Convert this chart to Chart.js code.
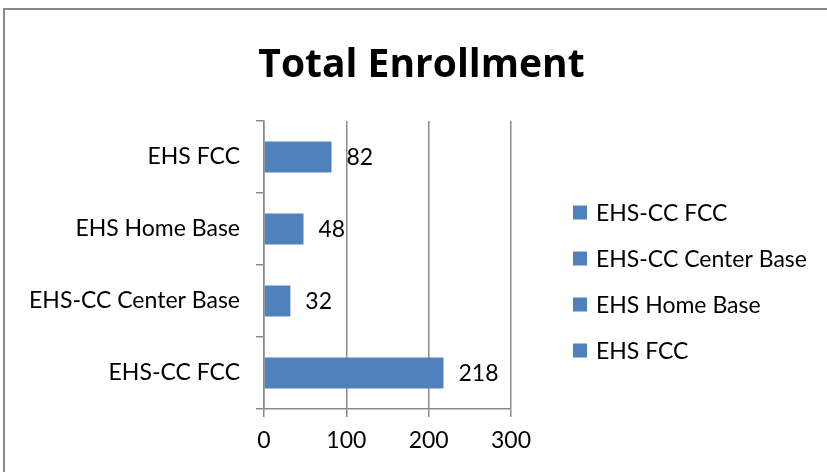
<!DOCTYPE html>
<html>
<head>
<meta charset="utf-8">
<script src="https://cdn.jsdelivr.net/npm/chart.js@4.4.0/dist/chart.umd.min.js"></script>
<style>
  html, body { margin: 0; padding: 0; background: #ffffff; }
  #wrap { position: relative; width: 827px; height: 472px; overflow: hidden; background: #fff; }
  #frame { position: absolute; left: 3px; top: 8px; width: 1000px; height: 1000px; border: 2px solid #8a8a8a; box-sizing: border-box; }
  #c { position: absolute; left: 0; top: 0; }
</style>
</head>
<body>
<div id="wrap">
  <div id="frame"></div>
  <canvas id="c" width="827" height="472"></canvas>
</div>
<script>
// ---- data ----
const categories = ['EHS-CC FCC', 'EHS-CC Center Base', 'EHS Home Base', 'EHS FCC'];
const enrollment = [218, 32, 48, 82];
const xTicks = [0, 100, 200, 300];
const chartTitle = 'Total Enrollment';

const FONT = 'Lato, Carlito, Calibri, "Open Sans", sans-serif';
const TITLE_FONT = '"Open Sans", Lato, sans-serif';
const BAR = '#4F81BD';
const GRID = '#8a8a8a';
const FS = 23;

const valueLabels = {
  id: 'valueLabels',
  afterDatasetsDraw(chart) {
    const ctx = chart.ctx;
    ctx.save();
    ctx.font = FS + 'px ' + FONT;
    ctx.fillStyle = '#000';
    ctx.textAlign = 'left';
    ctx.textBaseline = 'middle';
    chart.data.datasets.forEach((ds, di) => {
      chart.getDatasetMeta(di).data.forEach((bar, i) => {
        ctx.fillText(String(ds.data[i]), bar.x + 15, bar.y + 1);
      });
    });
    ctx.restore();
  }
};

const sideLegend = {
  id: 'sideLegend',
  afterDraw(chart) {
    const ctx = chart.ctx;
    const x0 = 573, y0 = 212.5, gap = 46, box = 14;
    ctx.save();
    ctx.font = FS + 'px ' + FONT;
    ctx.textAlign = 'left';
    ctx.textBaseline = 'middle';
    chart.data.labels.forEach((lab, i) => {
      const y = y0 + gap * i;
      ctx.fillStyle = BAR;
      ctx.fillRect(x0, y - box / 2, box, box);
      ctx.fillStyle = '#000';
      ctx.fillText(lab, x0 + 23, y + 1);
    });
    ctx.restore();
  }
};

const bigTitle = {
  id: 'bigTitle',
  afterDraw(chart) {
    const ctx = chart.ctx;
    ctx.save();
    ctx.font = 'bold 39px ' + TITLE_FONT;
    ctx.fillStyle = '#000';
    ctx.textAlign = 'center';
    ctx.textBaseline = 'alphabetic';
    ctx.fillText(chartTitle, 421.5, 77);
    ctx.restore();
  }
};

new Chart(document.getElementById('c'), {
  type: 'bar',
  data: {
    labels: categories,
    datasets: [{
      label: chartTitle,
      data: enrollment,
      backgroundColor: BAR,
      borderWidth: 0,
      barPercentage: 0.43,
      categoryPercentage: 1.0
    }]
  },
  options: {
    indexAxis: 'y',
    responsive: false,
    animation: false,
    devicePixelRatio: 1,
    layout: { padding: { left: 0, right: 316, top: 121, bottom: 0 } },
    plugins: {
      legend: { display: false },
      tooltip: { enabled: false },
      title: { display: false }
    },
    scales: {
      x: {
        type: 'linear',
        position: 'bottom',
        min: 0, max: 300,
        afterBuildTicks(s) { s.ticks = xTicks.map(v => ({ value: v })); },
        afterFit(s) { s.height = 63; },
        ticks: { color: '#000', font: { family: FONT, size: FS }, padding: 10, maxRotation: 0 },
        grid: { color: GRID, lineWidth: 1.5, tickLength: 8, drawTicks: true },
        border: { color: GRID, width: 1.5 }
      },
      y: {
        type: 'category',
        reverse: true,
        afterFit(s) { s.width = 264; },
        ticks: { color: '#000', font: { family: FONT, size: FS }, padding: 16 },
        grid: { color: GRID, lineWidth: 1.5, tickLength: 8, drawOnChartArea: false, drawTicks: true, offset: true },
        border: { color: GRID, width: 1.5 }
      }
    }
  },
  plugins: [valueLabels, sideLegend, bigTitle]
});
</script>
</body>
</html>
